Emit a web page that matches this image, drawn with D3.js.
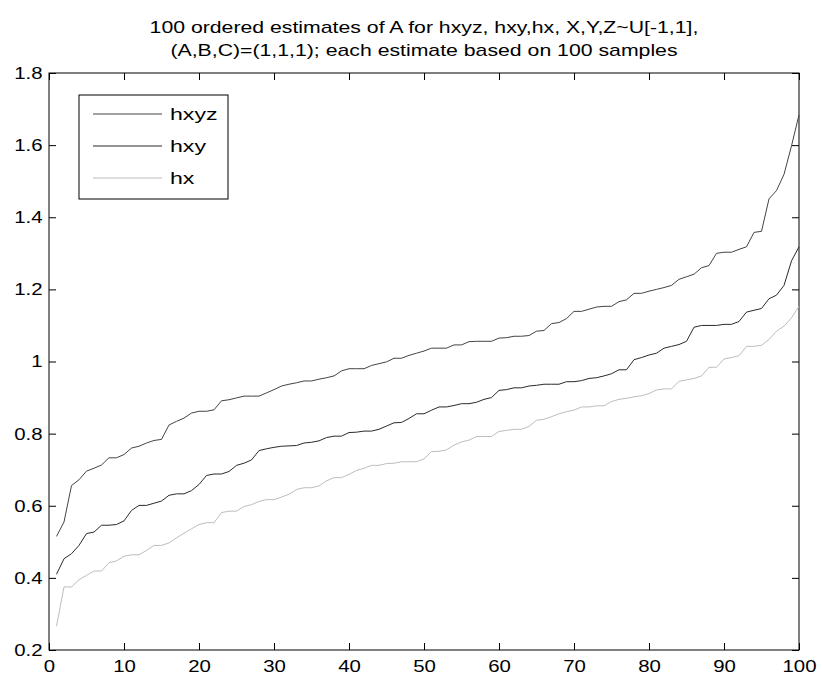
<!DOCTYPE html>
<html lang="en">
<head>
    <meta charset="UTF-8">
    <title>Ordered estimates of A</title>
    <script src="https://d3js.org/d3.v7.min.js"></script>
    <style>
        body { margin: 0; background: #fff; }
        svg { font-family: "Liberation Sans", Arial, Helvetica, sans-serif; }
        .tick text { font-size: 17px; fill: #000; }
    </style>
</head>
<body>
    <svg id="chart"></svg>

    <script>
        const titleLines = [
            '100 ordered estimates of A for hxyz, hxy,hx, X,Y,Z~U[-1,1],',
            '(A,B,C)=(1,1,1); each estimate based on 100 samples'
        ];

        const seriesNames = ['hxyz', 'hxy', 'hx'];
        const seriesColors = ['#444444', '#2a2a2a', '#bdbdbd'];

        const xTicks = [0, 10, 20, 30, 40, 50, 60, 70, 80, 90, 100];
        const yTicks = [0.2, 0.4, 0.6, 0.8, 1, 1.2, 1.4, 1.6, 1.8];

        // sorted estimates, index 1..100
        const hxyz = [
            0.515, 0.555, 0.656, 0.672, 0.696, 0.704, 0.713, 0.733, 0.733, 0.742,
            0.760, 0.765, 0.774, 0.781, 0.784, 0.824, 0.834, 0.843, 0.857, 0.862,
            0.862, 0.866, 0.891, 0.894, 0.899, 0.904, 0.904, 0.904, 0.913, 0.922,
            0.932, 0.937, 0.941, 0.946, 0.946, 0.951, 0.955, 0.960, 0.974, 0.980,
            0.980, 0.980, 0.989, 0.994, 0.999, 1.009, 1.009, 1.017, 1.023, 1.029,
            1.037, 1.037, 1.037, 1.046, 1.046, 1.055, 1.056, 1.056, 1.056, 1.065,
            1.066, 1.070, 1.070, 1.072, 1.084, 1.086, 1.105, 1.108, 1.119, 1.139,
            1.139, 1.145, 1.151, 1.153, 1.153, 1.166, 1.171, 1.189, 1.189, 1.195,
            1.200, 1.205, 1.211, 1.228, 1.235, 1.242, 1.260, 1.266, 1.300, 1.303,
            1.303, 1.311, 1.318, 1.358, 1.361, 1.451, 1.474, 1.519, 1.598, 1.684
        ];
        const hxy = [
            0.410, 0.453, 0.467, 0.490, 0.523, 0.527, 0.546, 0.546, 0.548, 0.558,
            0.587, 0.601, 0.601, 0.607, 0.613, 0.629, 0.633, 0.633, 0.642, 0.659,
            0.684, 0.688, 0.688, 0.695, 0.712, 0.718, 0.727, 0.753, 0.758, 0.762,
            0.765, 0.766, 0.767, 0.774, 0.776, 0.780, 0.789, 0.793, 0.793, 0.803,
            0.804, 0.807, 0.807, 0.812, 0.821, 0.830, 0.831, 0.842, 0.855, 0.855,
            0.865, 0.874, 0.874, 0.878, 0.883, 0.883, 0.887, 0.895, 0.900, 0.920,
            0.922, 0.927, 0.927, 0.932, 0.934, 0.937, 0.937, 0.937, 0.944, 0.944,
            0.947, 0.953, 0.955, 0.960, 0.966, 0.977, 0.977, 1.005, 1.011, 1.018,
            1.023, 1.037, 1.042, 1.047, 1.056, 1.095, 1.100, 1.100, 1.100, 1.103,
            1.103, 1.111, 1.137, 1.142, 1.147, 1.174, 1.184, 1.211, 1.279, 1.318
        ];
        const hx = [
            0.266, 0.375, 0.375, 0.395, 0.407, 0.419, 0.419, 0.442, 0.447, 0.460,
            0.464, 0.464, 0.476, 0.490, 0.490, 0.497, 0.511, 0.524, 0.536, 0.548,
            0.553, 0.553, 0.581, 0.585, 0.585, 0.598, 0.603, 0.612, 0.617, 0.617,
            0.624, 0.632, 0.645, 0.650, 0.650, 0.655, 0.669, 0.678, 0.678, 0.687,
            0.698, 0.704, 0.712, 0.712, 0.717, 0.718, 0.722, 0.722, 0.722, 0.730,
            0.750, 0.751, 0.755, 0.768, 0.777, 0.782, 0.792, 0.792, 0.792, 0.806,
            0.809, 0.812, 0.812, 0.820, 0.837, 0.840, 0.847, 0.855, 0.861, 0.865,
            0.874, 0.874, 0.877, 0.877, 0.889, 0.895, 0.898, 0.902, 0.905, 0.911,
            0.921, 0.924, 0.924, 0.945, 0.949, 0.953, 0.960, 0.984, 0.984, 1.007,
            1.011, 1.016, 1.042, 1.042, 1.045, 1.061, 1.084, 1.098, 1.121, 1.153
        ];

        const allSeries = [hxyz, hxy, hx];

        const W = 822, H = 684;
        const margin = { top: 73, right: 23, bottom: 34, left: 49 };
        const width = W - margin.left - margin.right;
        const height = H - margin.top - margin.bottom;
        const tickLen = 7;

        // the original text is drawn a bit wider than Arial, so stretch it
        function stretch(sel, sx) {
            sel.each(function() {
                const t = d3.select(this);
                const x0 = +t.attr('x') || 0;
                t.attr('x', x0 / sx).attr('transform', `scale(${sx},1)`);
            });
        }

        const svg = d3.select('#chart')
            .attr('width', W)
            .attr('height', H);

        const g = svg.append('g')
            .attr('transform', `translate(${margin.left},${margin.top})`);

        const x = d3.scaleLinear().domain([0, 100]).range([0, width]);
        const y = d3.scaleLinear().domain([0.2, 1.8]).range([height, 0]);

        // axes, ticks pointing inwards on all four sides
        const xAxis = g.append('g')
            .attr('transform', `translate(0,${height})`)
            .call(d3.axisBottom(x).tickValues(xTicks).tickSizeInner(-tickLen).tickSizeOuter(0).tickPadding(10).tickFormat(d3.format('d')));
        g.append('g')
            .call(d3.axisTop(x).tickValues(xTicks).tickSizeInner(-tickLen).tickSizeOuter(0).tickFormat(''));
        const yAxis = g.append('g')
            .call(d3.axisLeft(y).tickValues(yTicks).tickSizeInner(-tickLen).tickSizeOuter(0).tickPadding(6.5).tickFormat(d => d === 1 ? '1' : d3.format('.1f')(d)));
        g.append('g')
            .attr('transform', `translate(${width},0)`)
            .call(d3.axisRight(y).tickValues(yTicks).tickSizeInner(-tickLen).tickSizeOuter(0).tickFormat(''));

        g.selectAll('.domain').remove();
        g.selectAll('.tick line').attr('stroke', '#000');
        stretch(xAxis.selectAll('.tick text'), 1.2);
        stretch(yAxis.selectAll('.tick text'), 1.2);

        g.append('rect')
            .attr('width', width)
            .attr('height', height)
            .attr('fill', 'none')
            .attr('stroke', '#000')
            .attr('stroke-width', 1);

        const line = d3.line()
            .x((d, i) => x(i + 1))
            .y(d => y(d));

        g.selectAll('path.series')
            .data(allSeries)
            .enter().append('path')
            .attr('class', 'series')
            .attr('fill', 'none')
            .attr('stroke', (d, i) => seriesColors[i])
            .attr('stroke-width', 1)
            .attr('d', line);

        // legend
        const legend = svg.append('g').attr('transform', 'translate(79,95)');
        legend.append('rect')
            .attr('width', 149)
            .attr('height', 104)
            .attr('fill', '#fff')
            .attr('stroke', '#000');

        seriesNames.forEach((name, i) => {
            const ly = 19 + i * 32;
            legend.append('line')
                .attr('x1', 14).attr('x2', 83)
                .attr('y1', ly).attr('y2', ly)
                .attr('stroke', seriesColors[i]);
            legend.append('text')
                .attr('class', 'legend-label')
                .attr('x', 91)
                .attr('y', ly)
                .attr('dy', '0.35em')
                .style('font-size', '17px')
                .text(name);
        });
        stretch(legend.selectAll('.legend-label'), 1.36);

        // title
        svg.selectAll('text.title')
            .data(titleLines)
            .enter().append('text')
            .attr('class', 'title')
            .attr('x', margin.left + width / 2)
            .attr('y', (d, i) => 33 + i * 23)
            .attr('text-anchor', 'middle')
            .style('font-size', '17px')
            .text(d => d);
        stretch(svg.selectAll('text.title'), 1.25);
    </script>
</body>
</html>
